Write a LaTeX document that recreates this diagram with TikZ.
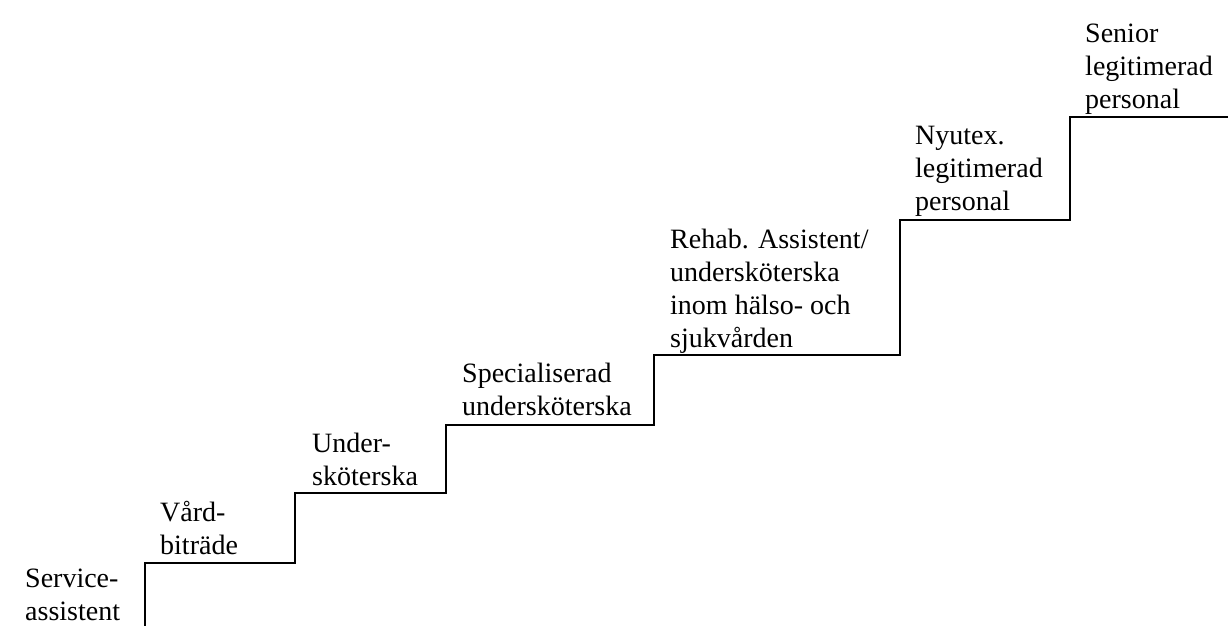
\documentclass[tikz,border=0pt]{standalone}
\usepackage{fontspec}
\setmainfont{Liberation Serif}
\begin{document}
\begin{tikzpicture}[x=1pt,y=-1pt,
  lbl/.style={anchor=base west,inner sep=0pt,align=left,font=\fontsize{28}{33}\selectfont},
  stair/.style={line width=2.3pt,line cap=butt,line join=miter}]
\useasboundingbox (0,0) rectangle (1228,626);
\draw[stair] (145,626) -- (145,563) -- (295,563) -- (295,493) -- (446,493) -- (446,425)
  -- (654,425) -- (654,355) -- (900,355) -- (900,220) -- (1070,220) -- (1070,117) -- (1228,117);
\node[lbl] (s1) at (25,620) {Service-\\assistent};
\node[lbl] (s2) at (160,554) {Vård-\\biträde};
\node[lbl] (s3) at (312,485) {Under-\\sköterska};
\node[lbl] (s4) at (462,415) {Specialiserad\\undersköterska};
\node[lbl] (s5) at (670,347) {Rehab. Assistent/\\undersköterska\\inom hälso- och\\sjukvården};
\node[lbl] (s6) at (915,210) {Nyutex.\\legitimerad\\personal};
\node[lbl] (s7) at (1085,108) {Senior\\legitimerad\\personal};
\end{tikzpicture}
\end{document}
